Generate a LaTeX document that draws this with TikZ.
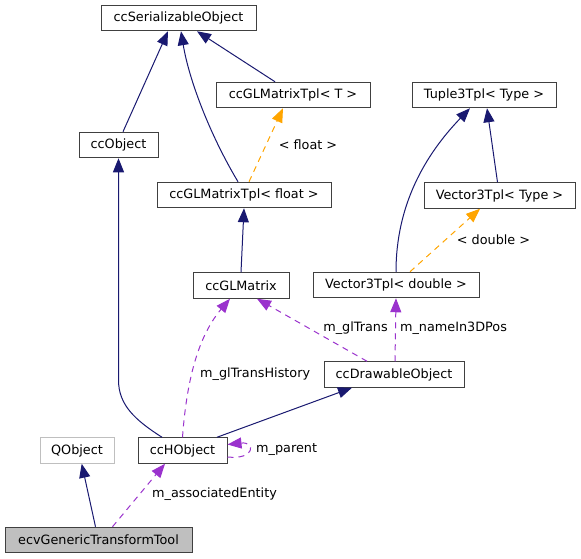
\documentclass[tikz,border=0pt]{standalone}
\usepackage{fontspec}
\setmainfont{DejaVu Sans}
\usetikzlibrary{arrows.meta}
\definecolor{navy}{HTML}{191970}
\definecolor{tplorange}{HTML}{FFA500}
\definecolor{usepurple}{HTML}{9A32CD}
\definecolor{boxgray}{HTML}{404040}
\definecolor{lightgray}{HTML}{BFBFBF}
\begin{document}
\begin{tikzpicture}[x=1pt,y=-1pt,
  txt/.style={font=\fontsize{12.8}{15}\selectfont},
  box/.style={txt, draw=boxgray, line width=1pt, fill=white, inner sep=0pt, minimum height=25.5pt},
  lbl/.style={txt, inner sep=0pt},
  tip/.style={-{Triangle[length=14pt,width=11pt]}},
  inh/.style={navy, line width=1pt, tip},
  tmpl/.style={tplorange, line width=1pt, dash pattern=on 6pt off 5pt, tip},
  usage/.style={usepurple, line width=1pt, dash pattern=on 6pt off 5pt, tip}]
\useasboundingbox (0,0) rectangle (581,559);

\node[box, minimum width=155pt] (ser) at (178.5,18) {ccSerializableObject};
\node[box, minimum width=79pt] (obj) at (118.5,145) {ccObject};
\node[box, minimum width=154pt] (tplT) at (293,95) {ccGLMatrixTpl< T >};
\node[box, minimum width=144pt] (tup) at (484,95) {Tuple3Tpl< Type >};
\node[box, minimum width=174pt] (tplf) at (244,195) {ccGLMatrixTpl< float >};
\node[box, minimum width=151pt] (v3t) at (499.5,195.5) {Vector3Tpl< Type >};
\node[box, minimum width=96pt] (glm) at (241,285.5) {ccGLMatrix};
\node[box, minimum width=166pt] (v3d) at (396,285) {Vector3Tpl< double >};
\node[box, minimum width=140pt] (cdo) at (394,374.5) {ccDrawableObject};
\node[box, draw=lightgray, minimum width=74pt] (qo) at (77,450.5) {QObject};
\node[box, minimum width=89pt] (ch) at (182.5,450.5) {ccHObject};
\node[box, fill=lightgray, minimum width=187pt] (ecv) at (98.5,540) {ecvGenericTransformTool};

% inheritance
\draw[inh] ([xshift=4.5pt]obj.north) -- ([xshift=-10.5pt]ser.south);
\draw[inh] ([xshift=-6pt]tplf.north) .. controls (210,135) and (189,80) .. ([xshift=2.5pt]ser.south);
\draw[inh] ([xshift=-18pt]tplT.north) -- ([xshift=18.5pt]ser.south);
\draw[inh] (glm.north) -- (tplf.south);
\draw[inh] (v3d.north) .. controls (396,205) and (425,155) .. ([xshift=-14pt]tup.south);
\draw[inh] ([xshift=-2pt]v3t.north) -- ([xshift=3pt]tup.south);
\draw[inh] ([xshift=-20.5pt]ch.north) .. controls (135,420) and (118.5,405) .. (118.5,380) -- (obj.south);
\draw[inh] ([xshift=34.5pt]ch.north) -- ([xshift=-42pt]cdo.south);
\draw[inh] ([xshift=-3pt]ecv.north) -- ([xshift=4.7pt]qo.south);

% template instances
\draw[tmpl] ([xshift=5pt]tplf.north) -- ([xshift=-10pt]tplT.south);
\draw[tmpl] ([xshift=14pt]v3d.north) -- ([xshift=-19.5pt]v3t.south);

% usage
\draw[usage] ([xshift=-27pt]cdo.north) -- ([xshift=16pt]glm.south);
\draw[usage] ([xshift=1pt]cdo.north) -- (v3d.south);
\draw[usage] (ch.north) .. controls (186,390) and (195,340) .. ([xshift=-11pt]glm.south);
\draw[usage] ([yshift=-6.5pt]ch.east) .. controls +(28,3) and +(28,-3) .. ([yshift=6pt]ch.east);
\draw[usage] ([xshift=14pt]ecv.north) -- ([xshift=-17.5pt]ch.south);

% labels
\node[lbl] (l1) at (308,145) {< float >};
\node[lbl] (l2) at (493.5,239.5) {< double >};
\node[lbl] (l3) at (355.5,328) {m\_glTrans};
\node[lbl] (l4) at (453.5,328) {m\_nameIn3DPos};
\node[lbl, anchor=west] (l5) at (200,374) {m\_glTransHistory};
\node[lbl, anchor=west] (l6) at (256,450) {m\_parent};
\node[lbl] (l7) at (214.5,494) {m\_associatedEntity};
\end{tikzpicture}
\end{document}
